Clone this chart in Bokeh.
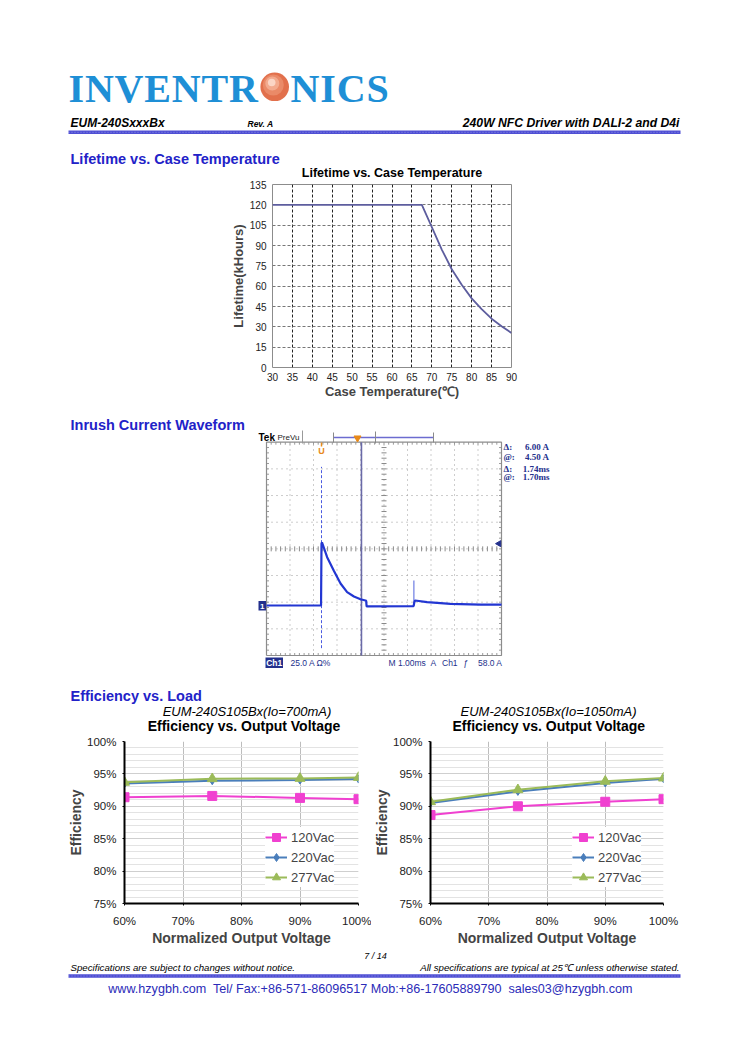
from bokeh.plotting import figure
from bokeh.layouts import column, row
from bokeh.models import (Range1d, Legend, LegendItem, PrintfTickFormatter,
                          SingleIntervalTicker, FixedTicker)
from bokeh.core.properties import value
from bokeh.embed import file_html
from bokeh.resources import INLINE
import math

# ---------------- DATA ----------------
life_temp = [30, 35, 40, 45, 50, 55, 60, 65, 67.5, 70, 72.5, 75, 77.5, 80, 82.5, 85, 87.5, 90]
life_khours = [120, 120, 120, 120, 120, 120, 120, 120, 120, 103.5, 87, 72.5, 61, 51, 43, 36, 30.5, 25.5]
life_x_ticks = [30, 35, 40, 45, 50, 55, 60, 65, 70, 75, 80, 85, 90]
life_y_ticks = [0, 15, 30, 45, 60, 75, 90, 105, 120, 135]

# inrush waveform (ms relative to trigger, A)
scope_t = [-2.34, -0.02, 0.0, 0.02, 0.24, 0.52, 0.81, 1.09, 1.38, 1.66, 1.87, 1.90, 1.92, 3.92, 3.95, 3.98, 4.49, 5.49, 6.77, 7.66]
scope_a = [0.0, 0.0, 58.0, 59.3, 45.3, 32.8, 20.6, 12.5, 8.4, 5.9, 4.7, 4.4, -0.8, -0.5, 3.0, 4.7, 3.1, 1.6, 0.9, 0.8]
spike1_t = [0.0, 0.0]
spike1_a = [-40.0, 130.0]
spike2_t = [3.93, 3.93]
spike2_a = [0.0, 23.4]
cursor_ms = 1.70
trig_level_a = 58.0
readouts = [("Δ:", "6.00 A"), ("@:", "4.50 A"), ("Δ:", "1.74ms"), ("@:", "1.70ms")]

eff_load = [60, 75, 90, 100]
eff700_120 = [91.4, 91.6, 91.3, 91.1]
eff700_220 = [93.5, 93.95, 94.05, 94.2]
eff700_277 = [93.7, 94.25, 94.3, 94.45]
eff1050_120 = [88.65, 90.0, 90.7, 91.1]
eff1050_220 = [90.5, 92.3, 93.6, 94.25]
eff1050_277 = [90.7, 92.55, 93.85, 94.35]
eff_x_ticks = [60, 70, 80, 90, 100]
series_names = ["120Vac", "220Vac", "277Vac"]

BLUE_HEAD = "#2222c8"
LOGO_BLUE = "#1e8fd6"
NAVY = "#23308c"
SANS = "Liberation Sans"
SERIF = "Liberation Serif"
PAGE_W = 750


def txt(p, x, y, s, size, color="black", style="normal", align="left", font=SANS,
        baseline="middle", **kw):
    p.text(x=[x], y=[y], text=[s], text_font=value(font), text_font_size=value(f"{size}px"),
           text_color=color, text_font_style=value(style), text_align=value(align),
           text_baseline=value(baseline), **kw)


def deco_fig(top, bottom):
    p = figure(width=PAGE_W, height=bottom - top, x_range=Range1d(0, PAGE_W), y_range=Range1d(bottom, top),
               output_backend="svg", toolbar_location=None, min_border=0,
               x_axis_location=None, y_axis_location=None)
    p.grid.visible = False
    p.outline_line_color = None
    return p


# ---------------- S1 header ----------------
s1 = deco_fig(0, 180)
logo_letters = ["I", "N", "V", "E", "N", "T", "R", "", "N", "I", "C", "S"]
logo_x = [68, 84.4, 114.1, 143.8, 171.3, 201.0, 228.5, 258.2, 290.1, 319.8, 336.2, 365.9]
for ch, lx in zip(logo_letters, logo_x):
    if ch:
        txt(s1, lx, 87.5, ch, 40, color=LOGO_BLUE, style="bold", font=SERIF)
s1.circle(x=[274.2], y=[86.3], radius=14.3, fill_color="#e2704c", line_color=None)
s1.circle(x=[272.8], y=[84.5], radius=10.5, fill_color="#ea8a68", line_color=None)
s1.circle(x=[271.8], y=[83.0], radius=7.0, fill_color="#f3aa8e", line_color=None)
s1.circle(x=[271.2], y=[82.0], radius=3.8, fill_color="#fbd5c5", line_color=None)
txt(s1, 70, 122, "EUM-240SxxxBx", 12, style="bold italic")
txt(s1, 247, 123, "Rev. A", 8.5, style="bold italic")
txt(s1, 679, 122, "240W NFC Driver with DALI-2 and D4i", 12.2, style="bold italic", align="right")
s1.line(x=[68, 680], y=[131.8, 131.8], line_width=3.5, line_color="#4f4fd4")
s1.line(x=[68, 680], y=[131.8, 131.8], line_width=1, line_color="white", line_alpha=0.35, line_dash="1 2")
txt(s1, 70, 158, "Lifetime vs. Case Temperature", 14.5, color=BLUE_HEAD, style="bold")
txt(s1, 391.5, 172, "Lifetime vs. Case Temperature", 12.5, style="bold", align="center")

# ---------------- S2 lifetime chart ----------------
S2_TOP, S2_BOT = 180, 404
L_FL, L_FR, L_FT, L_FB = 272, 511, 184, 367
s2 = figure(width=PAGE_W, height=S2_BOT - S2_TOP, x_range=Range1d(30, 90), y_range=Range1d(0, 135),
            output_backend="svg", toolbar_location=None,
            min_border_left=L_FL, min_border_right=PAGE_W - L_FR,
            min_border_top=L_FT - S2_TOP, min_border_bottom=S2_BOT - L_FB)
s2.outline_line_color = "#8c8c8c"
s2.xaxis.ticker = FixedTicker(ticks=life_x_ticks)
s2.yaxis.ticker = FixedTicker(ticks=life_y_ticks)
for ax in (s2.xaxis[0], s2.yaxis[0]):
    ax.axis_line_color = None
    ax.major_tick_line_color = None
    ax.major_tick_out = 0
    ax.major_tick_in = 0
    ax.minor_tick_line_color = None
    ax.minor_tick_out = 0
    ax.major_label_text_font = SANS
    ax.major_label_text_font_size = "10px"
    ax.major_label_text_color = "#222222"
    ax.axis_label_text_font = SANS
    ax.axis_label_text_font_size = "13px"
    ax.axis_label_text_font_style = "bold"
s2.xaxis.major_label_standoff = 5
s2.yaxis.major_label_standoff = 6
s2.xaxis.axis_label = "Case Temperature(℃)"
s2.yaxis.axis_label = "Lifetime(kHours)"
s2.xaxis.axis_label_standoff = 0
s2.yaxis.axis_label_standoff = 1
s2.xgrid.grid_line_color = "#222222"
s2.xgrid.grid_line_dash = "3 2"
s2.xgrid.grid_line_width = 1
s2.ygrid.grid_line_color = "#777777"
s2.ygrid.grid_line_dash = "3 2"
s2.line(life_temp, life_khours, line_color="#5d5d9e", line_width=1.8)

# ---------------- S3 scope ----------------
S3_TOP, S3_BOT = 404, 686
G_L, G_R, G_T, G_B = 266.0, 501.0, 441.7, 655.0
GROUND_PY = 605.0
TRIG_PX = 321.0
MS_PER_PX = 10.0 / (G_R - G_L)
A_PER_PX = 200.0 / (G_B - G_T)


def t_of(px):
    return (px - TRIG_PX) * MS_PER_PX


def a_of(py):
    return (GROUND_PY - py) * A_PER_PX


s3 = figure(width=PAGE_W, height=S3_BOT - S3_TOP, x_range=Range1d(t_of(0), t_of(PAGE_W)),
            y_range=Range1d(a_of(S3_BOT), a_of(S3_TOP)), output_backend="svg",
            toolbar_location=None, min_border=0, x_axis_location=None, y_axis_location=None)
s3.grid.visible = False
s3.outline_line_color = None
s3.extra_x_ranges = {"px": Range1d(0, PAGE_W)}
s3.extra_y_ranges = {"py": Range1d(S3_BOT, S3_TOP)}
PX = dict(x_range_name="px", y_range_name="py")

tl, tr, ab, at = t_of(G_L), t_of(G_R), a_of(G_B), a_of(G_T)
tc, ac = (tl + tr) / 2, (ab + at) / 2
vx = [tl + k * 1.0 for k in range(1, 10)]
s3.segment(x0=vx, y0=[ab] * 9, x1=vx, y1=[at] * 9, line_color="#9a9a9a", line_width=1, line_dash="1 4")
hy = [ab + k * 25.0 for k in range(1, 8)]
s3.segment(x0=[tl] * 7, y0=hy, x1=[tr] * 7, y1=hy, line_color="#9a9a9a", line_width=1, line_dash="1 4")
tick_dx = 2.5 * MS_PER_PX
tick_dy = 2.5 * A_PER_PX
mt = [tl + j * 0.2 for j in range(1, 50)]
ma = [ab + j * 5.0 for j in range(1, 40)]
s3.segment(x0=mt, y0=[ac - tick_dy] * len(mt), x1=mt, y1=[ac + tick_dy] * len(mt), line_color="#8a8a8a")
s3.segment(x0=[tc - tick_dx] * len(ma), y0=ma, x1=[tc + tick_dx] * len(ma), y1=ma, line_color="#8a8a8a")
s3.segment(x0=mt, y0=[ab] * len(mt), x1=mt, y1=[ab + tick_dy] * len(mt), line_color="#9a9a9a")
s3.segment(x0=mt, y0=[at] * len(mt), x1=mt, y1=[at - tick_dy] * len(mt), line_color="#9a9a9a")
s3.segment(x0=[tl] * len(ma), y0=ma, x1=[tl + tick_dx] * len(ma), y1=ma, line_color="#9a9a9a")
s3.segment(x0=[tr] * len(ma), y0=ma, x1=[tr - tick_dx] * len(ma), y1=ma, line_color="#9a9a9a")
s3.line(x=[tl, tr, tr, tl, tl], y=[ab, ab, at, at, ab], line_color="#8c8c8c", line_width=1.2)
s3.line(x=[cursor_ms, cursor_ms], y=[ab, at], line_color="#6a6aa8", line_width=1.6)
s3.line(spike1_t, spike1_a, line_color="#4a5ae0", line_width=1, line_dash="3 2")
s3.line(spike2_t, spike2_a, line_color="#8a96e8", line_width=1.5)
s3.line(scope_t, scope_a, line_color="#2236d2", line_width=2.2)
s3.scatter(x=[t_of(498.5)], y=[trig_level_a], marker="triangle", angle=math.pi / 2, size=6,
           fill_color=NAVY, line_color=NAVY)

txt(s3, 70, 424, "Inrush Current Waveform", 14.5, color=BLUE_HEAD, style="bold", **PX)
txt(s3, 258, 437, "Tek", 10, style="bold", **PX)
txt(s3, 277, 437, "PreVu", 8, color="#222222", **PX)
s3.line(x=[302, 302], y=[430, 443], line_color="#9a9a9a", **PX)
s3.line(x=[333, 433], y=[437, 437], line_color="#6c6cd0", line_width=1.5, **PX)
s3.segment(x0=[333, 433, 375], y0=[432, 432, 431], x1=[333, 433, 375], y1=[442, 442, 443],
           line_color="#8a8a8a", **PX)
s3.scatter(x=[357], y=[437.5], marker="inverted_triangle", size=7, fill_color="#e88a1a",
           line_color="#e88a1a", **PX)
s3.line(x=[321, 321], y=[442, 446], line_color="#e88a1a", line_width=1.5, **PX)
txt(s3, 321, 450.5, "U", 9, color="#e88a1a", style="bold", align="center", **PX)
for i, (lab, val) in enumerate(readouts):
    yy = [446, 456, 468, 476][i]
    txt(s3, 503, yy, lab, 9, color=NAVY, style="bold", font=SERIF, **PX)
    txt(s3, 549, yy, val, 9, color=NAVY, style="bold", font=SERIF, align="right", **PX)
s3.quad(left=[258], right=[265.5], top=[600.5], bottom=[610], fill_color=NAVY, line_color=None, **PX)
txt(s3, 261.8, 605.5, "1", 8, color="white", style="bold", align="center", **PX)
s3.quad(left=[265], right=[282.5], top=[657], bottom=[667.5], fill_color=NAVY, line_color=None, **PX)
txt(s3, 273.7, 662.3, "Ch1", 8.5, color="white", style="bold", align="center", **PX)
txt(s3, 290, 662.3, "25.0 A Ω%", 8.5, color=NAVY, **PX)
txt(s3, 388, 662.3, "M 1.00ms", 8.5, color=NAVY, **PX)
txt(s3, 430, 662.3, "A", 8.5, color=NAVY, **PX)
txt(s3, 441.5, 662.3, "Ch1", 8.5, color=NAVY, **PX)
txt(s3, 463, 662.3, "ƒ", 8.5, color=NAVY, **PX)
txt(s3, 502, 662.3, "58.0 A", 8.5, color=NAVY, align="right", **PX)

# ---------------- S4 efficiency titles ----------------
s4 = deco_fig(686, 734)
txt(s4, 70, 695, "Efficiency vs. Load", 14.5, color=BLUE_HEAD, style="bold")
txt(s4, 246.5, 710.5, "EUM-240S105Bx(Io=700mA)", 13, style="italic", align="center")
txt(s4, 243.5, 725, "Efficiency vs. Output Voltage", 14, style="bold", align="center")
txt(s4, 548, 710.5, "EUM-240S105Bx(Io=1050mA)", 13, style="italic", align="center")
txt(s4, 548.3, 725, "Efficiency vs. Output Voltage", 14, style="bold", align="center")


# ---------------- S5 efficiency charts ----------------
def eff_fig(width, bl, br, y120, y220, y277, leg_x):
    p = figure(width=width, height=214, x_range=Range1d(60, 100), y_range=Range1d(75, 100),
               output_backend="svg", toolbar_location=None,
               min_border_left=bl, min_border_right=br, min_border_top=7, min_border_bottom=42)
    p.outline_line_color = None
    p.xaxis.ticker = FixedTicker(ticks=eff_x_ticks)
    p.yaxis.ticker = SingleIntervalTicker(interval=5, num_minor_ticks=5)
    for ax in (p.xaxis[0], p.yaxis[0]):
        ax.formatter = PrintfTickFormatter(format="%d%%")
        ax.axis_line_color = "black"
        ax.axis_line_width = 2
        ax.major_tick_line_color = "black"
        ax.major_tick_out = 2
        ax.major_tick_in = 0
        ax.minor_tick_line_color = None
        ax.major_label_text_font = SANS
        ax.major_label_text_font_size = "11.5px"
        ax.major_label_text_color = "#222222"
        ax.axis_label_text_font = SANS
        ax.axis_label_text_font_size = "14px"
        ax.axis_label_text_font_style = "bold"
    p.xaxis.major_label_standoff = 9
    p.yaxis.major_label_standoff = 4
    p.xaxis.axis_label = "Normalized Output Voltage"
    p.yaxis.axis_label = "Efficiency"
    p.xaxis.axis_label_standoff = 0
    p.yaxis.axis_label_standoff = 0
    p.xgrid.grid_line_color = "#bdbdbd"
    p.ygrid.grid_line_color = "#cfcfcf"
    p.ygrid.minor_grid_line_color = "#e3e3e3"
    l1 = p.line(eff_load, y120, line_color="#f040d0", line_width=2)
    m1 = p.scatter(eff_load, y120, marker="square", size=9, fill_color="#f040d0", line_color="#f040d0")
    l2 = p.line(eff_load, y220, line_color="#4a7ebb", line_width=2)
    m2 = p.scatter(eff_load, y220, marker="diamond", size=8, fill_color="#4a7ebb", line_color="#4a7ebb")
    l3 = p.line(eff_load, y277, line_color="#9bbb59", line_width=2)
    m3 = p.scatter(eff_load, y277, marker="triangle", size=10, fill_color="#9bbb59", line_color="#9bbb59")
    items = [LegendItem(label=series_names[0], renderers=[l1, m1]),
             LegendItem(label=series_names[1], renderers=[l2, m2]),
             LegendItem(label=series_names[2], renderers=[l3, m3])]
    leg = Legend(items=items, location=(leg_x, 16), padding=4, spacing=0, margin=0,
                 glyph_width=22, glyph_height=20, label_height=20, label_standoff=4,
                 label_text_font=SANS, label_text_font_size="13px", border_line_color=None,
                 background_fill_color="white", background_fill_alpha=1.0)
    p.add_layout(leg, "center")
    return p


s5a = eff_fig(371, 124, 13, eff700_120, eff700_220, eff700_277, 141)
s5b = eff_fig(379, 58, 87, eff1050_120, eff1050_220, eff1050_277, 142)

# ---------------- S6 footer ----------------
s6 = deco_fig(948, 1061)
txt(s6, 375, 955, "7 / 14", 9, style="italic", align="center")
txt(s6, 70, 967, "Specifications are subject to changes without notice.", 9.7, style="italic")
txt(s6, 679, 967, "All specifications are typical at 25℃ unless otherwise stated.", 9.7, style="italic",
    align="right")
s6.line(x=[68, 680], y=[975.5, 975.5], line_width=3.5, line_color="#4f4fd4")
s6.line(x=[68, 680], y=[975.5, 975.5], line_width=1, line_color="white", line_alpha=0.35, line_dash="1 2")
txt(s6, 370, 988,
    "www.hzygbh.com\u00a0 Tel/ Fax:+86-571-86096517 Mob:+86-17605889790\u00a0 sales03@hzygbh.com",
    12.6, color="#2b2bb8", align="center")

layout = column(row(s1), row(s2), row(s3), row(s4), row(s5a, s5b), row(s6))
open("out.html", "w").write(file_html(layout, INLINE))
